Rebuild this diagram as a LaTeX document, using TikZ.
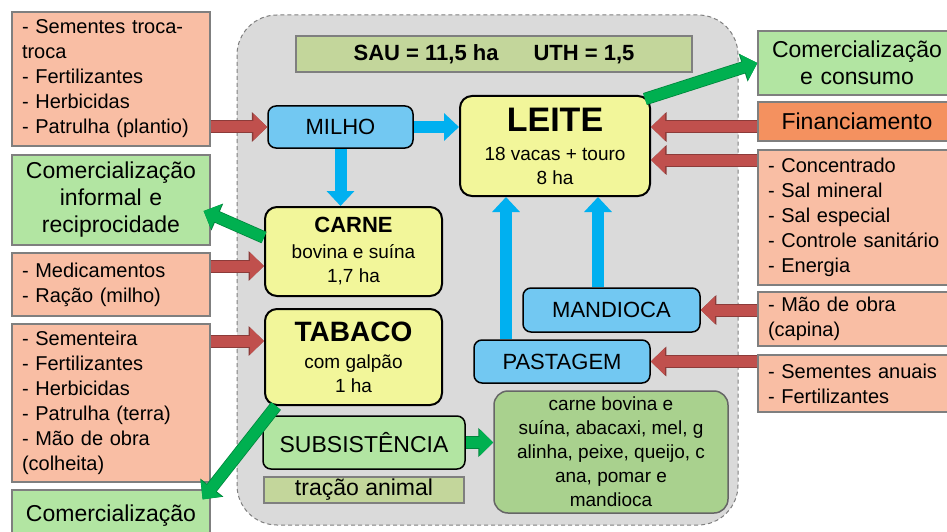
\documentclass[tikz,border=0pt]{standalone}
\usepackage{fontspec}
\setmainfont{Liberation Sans}
\usetikzlibrary{arrows.meta}

\definecolor{salmao}{HTML}{F9BEA4}
\definecolor{laranja}{HTML}{F4915F}
\definecolor{verdeclaro}{HTML}{B2E5A2}
\definecolor{oliva}{HTML}{C3D69B}
\definecolor{verdemedio}{HTML}{A9D18E}
\definecolor{amarelo}{HTML}{F2F69A}
\definecolor{azul}{HTML}{72C8F2}
\definecolor{cinza}{HTML}{DADADA}
\definecolor{borda}{HTML}{7F7F7F}
\definecolor{setavermelha}{HTML}{C0504D}
\definecolor{setavermelhaesc}{HTML}{8C3B39}
\definecolor{setaazul}{HTML}{00B0F0}
\definecolor{setaverde}{HTML}{00B050}
\definecolor{setaverdeesc}{HTML}{00853C}

\tikzset{
  caixa/.style={draw=borda, line width=1.2pt, fill=salmao, align=left,
    text width=178pt, inner xsep=10pt, inner ysep=0pt,
    font=\fontsize{20}{25}\selectfont},
  saida/.style={caixa, fill=verdeclaro, align=center,
    font=\fontsize{23}{27}\selectfont},
  bloco/.style={draw=black, line width=1.5pt, fill=azul, rounded corners=8pt,
    inner sep=0pt, font=\fontsize{22}{26}\selectfont},
  ativ/.style={draw=black, line width=2pt, fill=amarelo, rounded corners=12pt,
    inner sep=0pt, align=center, font=\fontsize{19}{24}\selectfont},
  faixa/.style={draw=borda, line width=1.2pt, fill=oliva, inner sep=0pt},
  setavm/.style={draw=setavermelha, line width=11pt,
    -{Triangle[length=14pt,width=26pt]},
    preaction={draw=setavermelhaesc, line width=13pt,
      -{Triangle[length=15.5pt,width=29pt]}}},
  setaaz/.style={draw=setaazul, line width=12pt,
    -{Triangle[length=15pt,width=27pt]}},
  setavd/.style={draw=setaverde, line width=11pt,
    -{Triangle[length=14pt,width=26pt]},
    preaction={draw=setaverdeesc, line width=12.5pt,
      -{Triangle[length=15pt,width=28.5pt]}}}
}

\begin{document}
\begin{tikzpicture}[x=1pt,y=-1pt]
  \useasboundingbox (0,0) rectangle (947,532);
  \clip (0,0) rectangle (947,532);

  % unidade de producao
  \draw[draw=borda, line width=1pt, dash pattern=on 4pt off 3pt, fill=cinza,
    rounded corners=40pt] (237,15) rectangle (738,525);

  % entradas e saidas
  \begin{scope}[every node/.style={caixa}]
    \node[minimum height=134pt] (sementes) at (111,79)
      {- Sementes troca-\\troca\\- Fertilizantes\\- Herbicidas\\- Patrulha (plantio)};
    \node[saida, minimum height=90pt] (informal) at (111,200)
      {Comercialização\\informal e\\reciprocidade};
    \node[minimum height=63pt] (medic) at (111,284.5)
      {- Medicamentos\\- Ração (milho)};
    \node[minimum height=158pt] (sementeira) at (111,403)
      {- Sementeira\\- Fertilizantes\\- Herbicidas\\- Patrulha (terra)\\- Mão de obra\\(colheita)};
    \node[saida, minimum height=52pt] (comerc) at (111,516)
      {Comercialização};

    \node[saida, minimum height=64pt] (comercio) at (857,63)
      {Comercialização\\e consumo};
    \node[fill=laranja, align=center, minimum height=39pt,
      font=\fontsize{23}{27}\selectfont] (financ) at (857,121.5) {Financiamento};
    \node[minimum height=135pt] (concentrado) at (857,217.5)
      {- Concentrado\\- Sal mineral\\- Sal especial\\- Controle sanitário\\- Energia};
    \node[minimum height=54pt] (mao) at (857,319)
      {- Mão de obra\\(capina)};
    \node[minimum height=57pt] (anuais) at (857,383.5)
      {- Sementes anuais\\- Fertilizantes};
  \end{scope}

  % atividades
  \node[faixa, minimum width=396pt, minimum height=36pt,
    font=\fontsize{22}{26}\selectfont\bfseries] (sau) at (494,54)
    {SAU = 11,5 ha\hspace{35pt}UTH = 1,5};
  \node[bloco, minimum width=145pt, minimum height=42pt] (milho) at (340.5,127) {MILHO};
  \node[ativ, minimum width=190pt, minimum height=100pt] (leite) at (555,146)
    {{\fontsize{34}{34}\selectfont\bfseries LEITE}\\[5pt]18 vacas + touro\\8 ha};
  \node[ativ, minimum width=177pt, minimum height=89pt] (carne) at (353.5,251.5)
    {{\fontsize{22}{24}\selectfont\bfseries CARNE}\\[2pt]bovina e suína\\1,7 ha};
  \node[ativ, minimum width=177pt, minimum height=96pt] (tabaco) at (353.5,357)
    {{\fontsize{28}{28}\selectfont\bfseries TABACO}\\[3pt]com galpão\\1 ha};
  \node[bloco, fill=verdeclaro, minimum width=202pt, minimum height=53pt,
    font=\fontsize{23}{27}\selectfont] (subs) at (364,442.5) {SUBSISTÊNCIA};
  \node[faixa, minimum width=200pt, minimum height=26pt,
    font=\fontsize{23}{26}\selectfont] (tracao) at (364,490) {tração animal};
  \node[draw=borda!80!black, line width=1.5pt, fill=verdemedio, rounded corners=14pt,
    minimum width=234pt, minimum height=122pt, inner sep=0pt, align=center,
    font=\fontsize{19}{24}\selectfont] (food) at (611,452)
    {carne bovina e\\suína, abacaxi, mel, g\\alinha, peixe, queijo, c\\ana, pomar e\\mandioca};
  \node[bloco, minimum width=177pt, minimum height=44pt] (mandioca) at (611.5,310) {MANDIOCA};
  \node[bloco, minimum width=176pt, minimum height=43pt] (pastagem) at (562,361.5) {PASTAGEM};

  % pontos das setas
  \coordinate (c-carne) at ([yshift=-14.5pt]carne.west);
  \coordinate (c-tabaco) at ([yshift=16pt]tabaco.west);
  \coordinate (c-leite1) at ([yshift=19pt]leite.east);
  \coordinate (c-leite2) at ([yshift=-14pt]leite.east);
  \coordinate (c-pasto) at ([xshift=-56pt]pastagem.north);
  \coordinate (c-mand) at ([xshift=-13.5pt]mandioca.north);
  \coordinate (v-leite) at ([xshift=-6pt,yshift=-4pt]leite.north east);
  \coordinate (v-carne) at ([yshift=14pt]carne.west);
  \coordinate (v-informal) at ([xshift=-7pt,yshift=-11pt]informal.east);
  \coordinate (v-tabaco) at ([xshift=12pt]tabaco.south west);
  \coordinate (v-comerc) at ([xshift=-8pt,yshift=-10pt]comerc.north east);

  % insumos
  \draw[setavm] (sementes.east |- milho.west) -- (milho.west);
  \draw[setavm] (medic.east |- c-carne) -- (c-carne);
  \draw[setavm] (sementeira.east |- c-tabaco) -- (c-tabaco);
  \draw[setavm] (financ.west |- c-leite1) -- (c-leite1);
  \draw[setavm] (concentrado.west |- c-leite2) -- (c-leite2);
  \draw[setavm] (mao.west |- mandioca.east) -- (mandioca.east);
  \draw[setavm] (anuais.west |- pastagem.east) -- (pastagem.east);

  % fluxos internos
  \draw[setaaz] (milho.east) -- (milho.east -| leite.west);
  \draw[setaaz] (milho.south) -- (milho.south |- carne.north);
  \draw[setaaz] (c-pasto) -- (c-pasto |- leite.south);
  \draw[setaaz] (c-mand) -- (c-mand |- leite.south);

  % produtos
  \draw[setavd] (v-leite) -- (comercio.west);
  \draw[setavd] (v-carne) -- (v-informal);
  \draw[setavd] (v-tabaco) -- (v-comerc);
  \draw[setavd] (subs.east) -- (subs.east -| food.west);
\end{tikzpicture}
\end{document}
